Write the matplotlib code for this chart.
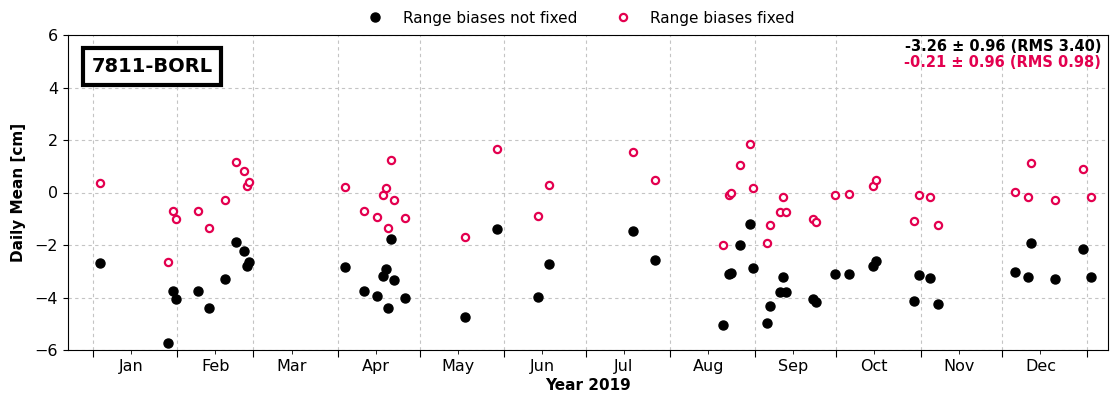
import datetime as dt
import matplotlib
matplotlib.use("Agg")
import matplotlib.pyplot as plt
import matplotlib.dates as mdates

# Daily means per day (cm), 7811-BORL, 2019
dates = [
    "2019-01-03", "2019-01-28", "2019-01-30", "2019-01-31", "2019-02-08",
    "2019-02-12", "2019-02-18", "2019-02-22", "2019-02-25", "2019-02-26",
    "2019-02-27", "2019-04-03", "2019-04-10", "2019-04-15", "2019-04-17",
    "2019-04-18", "2019-04-19", "2019-04-20", "2019-04-21", "2019-04-25",
    "2019-05-17", "2019-05-29", "2019-06-13", "2019-06-17", "2019-07-18",
    "2019-07-26", "2019-08-20", "2019-08-22", "2019-08-23", "2019-08-26",
    "2019-08-30", "2019-08-31", "2019-09-05", "2019-09-06", "2019-09-10",
    "2019-09-11", "2019-09-12", "2019-09-22", "2019-09-23", "2019-09-30",
    "2019-10-05", "2019-10-14", "2019-10-15", "2019-10-29", "2019-10-31",
    "2019-11-04", "2019-11-07", "2019-12-05", "2019-12-10", "2019-12-11",
    "2019-12-20", "2019-12-30", "2020-01-02",
]
not_fixed = [
    -2.70, -5.72, -3.74, -4.06, -3.74, -4.39, -3.31, -1.87, -2.22, -2.79,
    -2.66, -2.83, -3.74, -3.96, -3.18, -2.90, -4.40, -1.78, -3.35, -4.01,
    -4.74, -1.39, -3.99, -2.74, -1.48, -2.57, -5.03, -3.12, -3.05, -2.01,
    -1.19, -2.86, -4.98, -4.31, -3.78, -3.22, -3.78, -4.05, -4.17, -3.12,
    -3.09, -2.80, -2.62, -4.15, -3.13, -3.26, -4.26, -3.02, -3.22, -1.92,
    -3.31, -2.15, -3.22,
]
fixed = [
    0.35, -2.66, -0.69, -1.00, -0.69, -1.35, -0.27, 1.16, 0.82, 0.26,
    0.39, 0.21, -0.69, -0.92, -0.10, 0.17, -1.35, 1.25, -0.27, -0.96,
    -1.70, 1.65, -0.91, 0.30, 1.54, 0.46, -2.01, -0.10, -0.01, 1.04,
    1.85, 0.16, -1.92, -1.23, -0.74, -0.18, -0.74, -1.00, -1.14, -0.10,
    -0.06, 0.26, 0.48, -1.10, -0.10, -0.18, -1.23, 0.03, -0.18, 1.12,
    -0.27, 0.91, -0.18,
]
station = "7811-BORL"
stats_not_fixed = "-3.26 ± 0.96 (RMS 3.40)"
stats_fixed = "-0.21 ± 0.96 (RMS 0.98)"

RED = "#e3004f"

def main():
    # plot each daily mean at noon
    x = [dt.datetime.strptime(d, "%Y-%m-%d") + dt.timedelta(hours=12) for d in dates]

    fig, ax = plt.subplots(figsize=(11.1, 4.0), dpi=100)
    fig.subplots_adjust(left=0.061, right=0.998, top=0.9125, bottom=0.125)

    ax.plot(x, not_fixed, "o", color="black", markersize=6.5, label="Range biases not fixed")
    ax.plot(x, fixed, "o", color=RED, markerfacecolor="white", markeredgewidth=1.6,
            markersize=5.2, label="Range biases fixed")

    ax.set_xlim(dt.datetime(2018, 12, 22, 19), dt.datetime(2020, 1, 8, 17))
    ax.set_ylim(-6, 6)
    ax.set_yticks([-6, -4, -2, 0, 2, 4, 6])

    # month boundaries as major ticks, month names centred mid-month
    ax.xaxis.set_major_locator(mdates.MonthLocator())
    ax.xaxis.set_major_formatter(plt.NullFormatter())
    ax.xaxis.set_minor_locator(mdates.MonthLocator(bymonthday=15))
    ax.xaxis.set_minor_formatter(mdates.DateFormatter("%b"))
    ax.tick_params(axis="x", which="major", length=5)
    ax.tick_params(axis="x", which="minor", length=3, labelsize=11.5)
    ax.tick_params(axis="y", labelsize=11.5)

    ax.grid(True, which="major", linestyle=(0, (3, 3)), color="#c4c4c4", linewidth=0.8)
    ax.set_axisbelow(True)

    ax.set_xlabel("Year 2019", fontsize=11, fontweight="bold", labelpad=3)
    ax.set_ylabel("Daily Mean [cm]", fontsize=11, fontweight="bold", labelpad=6)

    ax.text(0.081, 0.90, station, transform=ax.transAxes, ha="center", va="center",
            fontsize=14, fontweight="bold",
            bbox=dict(boxstyle="square,pad=0.45", facecolor="white", edgecolor="black", linewidth=3))

    ax.text(0.9935, 0.962, stats_not_fixed, transform=ax.transAxes, ha="right", va="center",
            fontsize=10.5, fontweight="bold", color="black")
    ax.text(0.9935, 0.914, stats_fixed, transform=ax.transAxes, ha="right", va="center",
            fontsize=10.5, fontweight="bold", color=RED)

    ax.legend(loc="lower center", bbox_to_anchor=(0.49, 1.0), ncol=2, frameon=False,
              fontsize=11, borderaxespad=0.2)

    fig.savefig("out.png", dpi=100)

if __name__ == "__main__":
    main()
